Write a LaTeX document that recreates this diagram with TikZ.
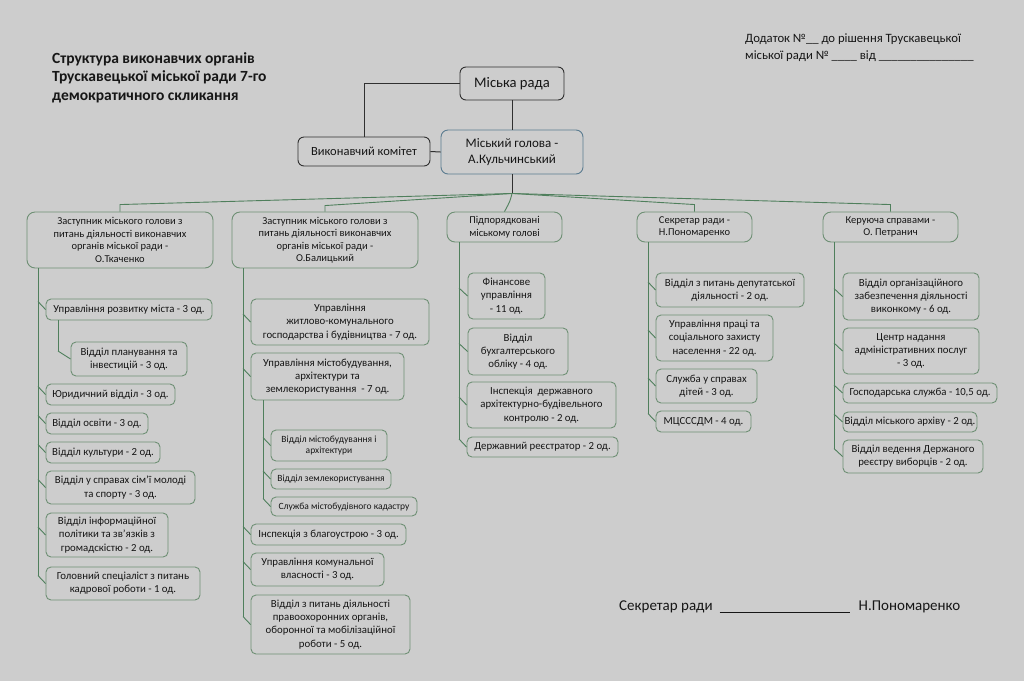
\documentclass[tikz,border=0pt]{standalone}
\usepackage{fontspec}
\setmainfont{Carlito}
\usetikzlibrary{calc}
\definecolor{bgc}{HTML}{CDCDCD}
\definecolor{txt}{HTML}{161616}
\definecolor{darkc}{HTML}{303030}
\definecolor{boxc}{HTML}{6E8F74}
\definecolor{linec}{HTML}{4F7F5C}
\definecolor{mgc}{HTML}{5B7C90}
\newcommand{\fs}[2]{\fontsize{#1}{#2}\selectfont}
\tikzset{
  box/.style={draw=boxc, line width=0.9pt, rounded corners=5pt, fill=bgc, inner sep=0pt,
    align=center, text=txt, font=\fs{10.8}{13.2}},
  hdr/.style={rounded corners=8pt, font=\fs{10.5}{12.5}},
  small/.style={font=\fs{9.5}{11.5}},
  dbox/.style={draw=darkc, rounded corners=6pt},
  dline/.style={draw=darkc, line width=1pt},
  gline/.style={draw=linec, line width=0.9pt},
  fan/.style={draw=linec, line width=0.9pt},
  plain/.style={inner sep=0pt, text=txt, align=left}
}
\newcommand{\bx}[7][]{\node[box,#1,minimum width={(#5-#3)*1pt},minimum height={(#6-#4)*1pt}] (#2) at ({(#3+#5)/2},{(#4+#6)/2}) {#7};}
\newcommand{\hk}[2]{\draw[gline] ($(#2.west -| #1)+(0,-8)$) -- (#2.west);}
\begin{document}
\begin{tikzpicture}[x=1pt,y=-1pt]
\fill[bgc] (0,0) rectangle (1024,681);
\useasboundingbox (0,0) rectangle (1024,681);

% titles
\node[plain, anchor=north west, font=\bfseries\fs{15.5}{18.5}] (title) at (52,52)
  {Структура виконавчих органів\\Трускавецької міської ради 7-го\\демократичного скликання};
\node[plain, anchor=north west, font=\fs{12.7}{17}] (dod) at (745,34)
  {Додаток №\_\_ до рішення Трускавецької\\міської ради № \_\_\_\_ від \_\_\_\_\_\_\_\_\_\_\_\_\_\_\_};
\node[plain, anchor=west, font=\fs{15}{18}] (sign) at (619,607)
  {Секретар ради\hspace{7pt}\rule[-1.5pt]{130pt}{0.6pt}\hspace{9pt}Н.Пономаренко};

% top
\bx[dbox, font=\fs{14.6}{17}]{mr}{460}{67}{564}{100}{Міська рада}
\bx[dbox, font=\fs{12.5}{14}]{vk}{298}{137}{430}{166}{Виконавчий комітет}
\bx[draw=mgc, rounded corners=7pt, font=\fs{13}{16}]{mg}{441}{130}{583}{174}{Міський голова -\\А.Кульчинський}

\draw[dline] (mr.west) -| (vk.north);
\draw[dline] (mr.south) -- (mr.south |- mg.north);
\draw[dline] (vk.east) -- (mg.west);
\coordinate (J) at ($(mg.south)+(0,19)$);
\draw[dline] (mg.south) -- (J);

% headers
\bx[hdr]{h1}{27}{212}{213}{268}{Заступник міського голови з\\питань діяльності виконавчих\\органів міської ради -\\О.Ткаченко}
\bx[hdr]{h2}{232}{212}{418}{268}{Заступник міського голови з\\питань діяльності виконавчих\\органів міської ради -\\О.Балицький}
\bx[hdr]{h3}{447}{212}{562}{242}{Підпорядковані\\міському голові}
\bx[hdr]{h4}{637}{212}{752}{242}{Секретар ради -\\Н.Пономаренко}
\bx[hdr]{h5}{823}{212}{958}{242}{Керуюча справами -\\О. Петранич}

\draw[fan] (J) -- ($(h1.north)+(0,-7)$) -- (h1.north);
\draw[fan] (J) -- ($(h2.north)+(0,-6)$) -- (h2.north);
\draw[fan] (J) .. controls ($(J)+(-2,8)$) .. (h3.north);
\draw[fan] (J) -- ($(h4.north)+(0,-7)$) -- (h4.north);
\draw[fan] (J) -- ($(h5.north)+(0,-7)$) -- (h5.north);

% column 1
\coordinate (t1) at (38,0);
\coordinate (t1a) at (58,0);
\bx{c11}{46}{299}{212}{320}{Управління розвитку міста - 3 од.}
\bx{c11a}{71}{342}{187}{376}{Відділ планування та\\інвестицій - 3 од.}
\bx{c12}{46}{384}{175}{405}{Юридичний відділ - 3 од.}
\bx{c13}{46}{413}{148}{434}{Відділ освіти - 3 од.}
\bx{c14}{46}{442}{160}{463}{Відділ культури - 2 од.}
\bx{c15}{46}{471}{195}{504}{Відділ у справах сім'ї молоді\\та спорту - 3 од.}
\bx{c16}{46}{513}{168}{557}{Відділ інформаційної\\політики та зв'язків з\\громадскістю - 2 од.}
\bx{c17}{46}{567}{200}{600}{Головний спеціаліст з питань\\кадрової роботи - 1 од.}
\draw[gline] (h1.south -| t1) -- ($(c17.west -| t1)+(0,-8)$);
\foreach \c in {c11,c12,c13,c14,c15,c16,c17} {\hk{t1}{\c}}
\draw[gline] (c11.south -| t1a) -- ($(c11a.west -| t1a)+(0,-8)$);
\hk{t1a}{c11a}

% column 2
\coordinate (t2) at (243,0);
\coordinate (t2a) at (263,0);
\bx{c21}{251}{299}{429}{345}{Управління\\житлово-комунального\\господарства і будівництва - 7 од.}
\bx{c22}{251}{353}{404}{400}{Управління містобудування,\\архітектури та\\землекористування \ - 7 од.}
\bx[small]{c22a}{271}{430}{387}{461}{Відділ містобудування і\\архітектури}
\bx[small]{c22b}{271}{469}{391}{489}{Відділ землекористування}
\bx[small]{c22c}{271}{497}{417}{516}{Служба містобудівного кадастру}
\bx{c23}{251}{524}{406}{545}{Інспекція з благоустрою - 3 од.}
\bx{c24}{251}{553}{384}{586}{Управління комунальної\\власності - 3 од.}
\bx{c25}{251}{595}{410}{654}{Відділ з питань діяльності\\правоохоронних органів,\\оборонної та мобілізаційної\\роботи - 5 од.}
\draw[gline] (h2.south -| t2) -- ($(c25.west -| t2)+(0,-8)$);
\foreach \c in {c21,c22,c23,c24,c25} {\hk{t2}{\c}}
\draw[gline] (c22.south -| t2a) -- ($(c22c.west -| t2a)+(0,-8)$);
\foreach \c in {c22a,c22b,c22c} {\hk{t2a}{\c}}

% column 3
\coordinate (t3) at (459,0);
\bx{c31}{468}{273}{545}{319}{Фінансове\\управління\\- 11 од.}
\bx{c32}{468}{328}{568}{375}{Відділ\\бухгалтерського\\обліку - 4 од.}
\bx{c33}{467}{382}{616}{428}{Інспекція \ державного\\архітектурно-будівельного\\контролю - 2 од.}
\bx{c34}{467}{437}{618}{457}{Державний реєстратор - 2 од.}
\draw[gline] (h3.south -| t3) -- ($(c34.west -| t3)+(0,-8)$);
\foreach \c in {c31,c32,c33,c34} {\hk{t3}{\c}}

% column 4
\coordinate (t4) at (648,0);
\bx{c41}{656}{273}{804}{307}{Відділ з питань депутатської\\діяльності - 2 од.}
\bx{c42}{656}{315}{773}{361}{Управління праці та\\соціального захисту\\населення - 22 од.}
\bx{c43}{656}{369}{757}{403}{Служба у справах\\дітей - 3 од.}
\bx{c44}{656}{411}{751}{432}{МЦСССДМ - 4 од.}
\draw[gline] (h4.south -| t4) -- ($(c44.west -| t4)+(0,-8)$);
\foreach \c in {c41,c42,c43,c44} {\hk{t4}{\c}}

% column 5
\coordinate (t5) at (834,0);
\bx{c51}{843}{273}{979}{320}{Відділ організаційного\\забезпечення діяльності\\виконкому - 6 од.}
\bx{c52}{843}{328}{979}{374}{Центр надання\\адміністративних послуг\\- 3 од.}
\bx{c53}{843}{383}{997}{403}{Господарська служба - 10,5 од.}
\bx{c54}{843}{412}{977}{432}{Відділ міського архіву - 2 од.}
\bx{c55}{843}{440}{983}{473}{Відділ ведення Держаного\\реєстру виборців - 2 од.}
\draw[gline] (h5.south -| t5) -- ($(c55.west -| t5)+(0,-8)$);
\foreach \c in {c51,c52,c53,c54,c55} {\hk{t5}{\c}}
\end{tikzpicture}
\end{document}
